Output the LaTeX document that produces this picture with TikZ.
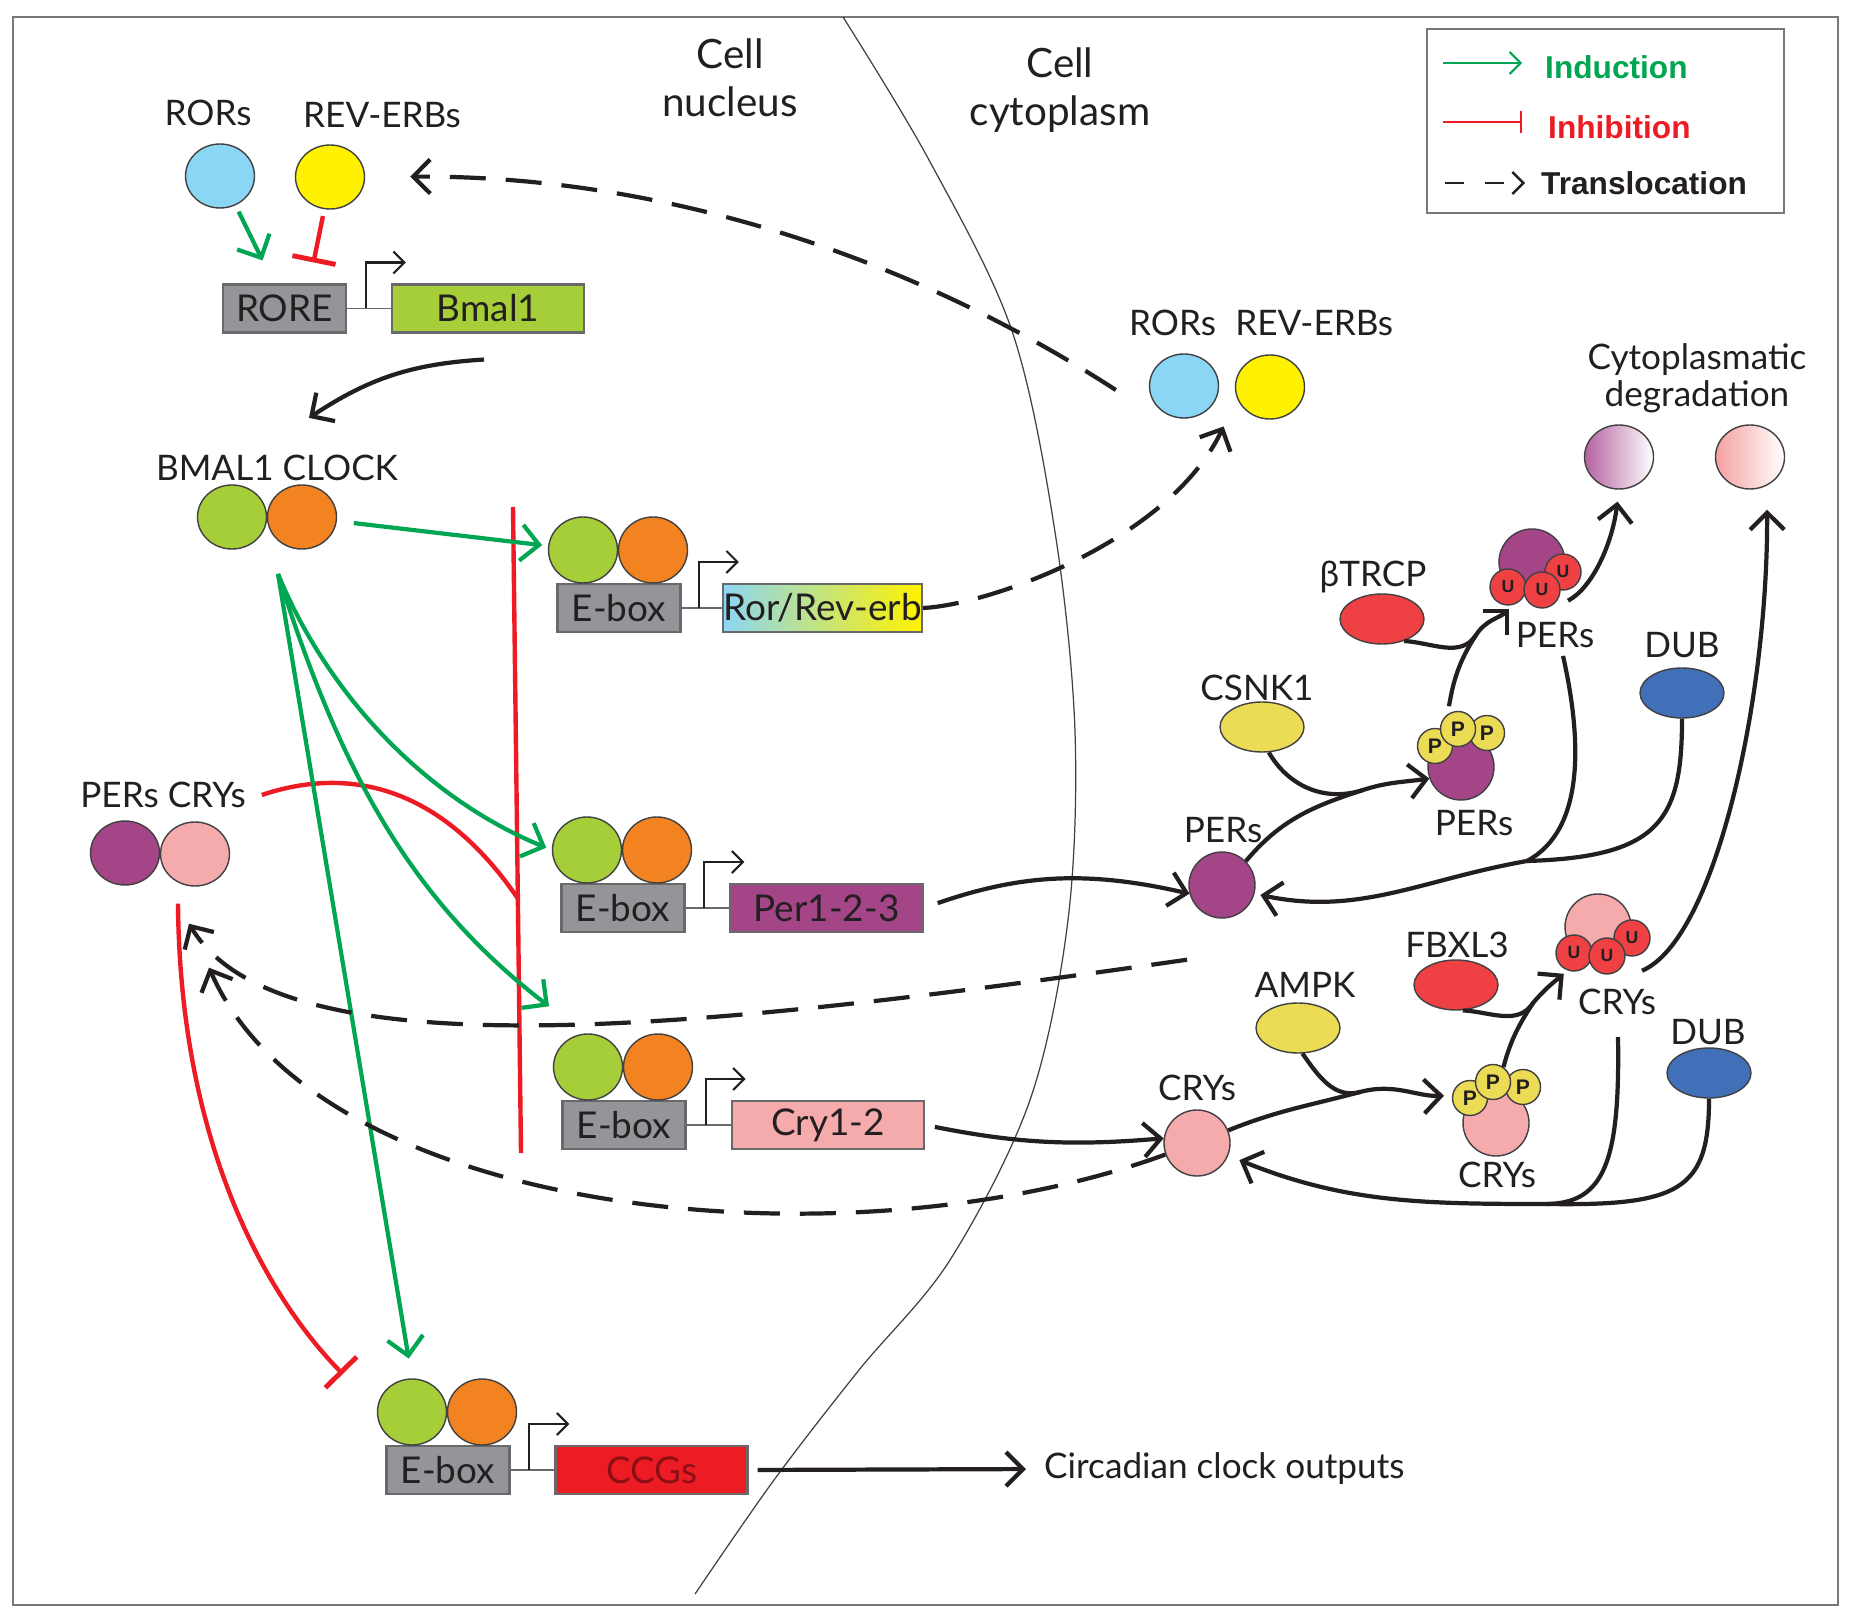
\documentclass[tikz,border=0pt]{standalone}
\usepackage{fontspec}
\setmainfont{Lato}
\newfontfamily\arialfont{Liberation Sans}
\usetikzlibrary{arrows.meta,shapes.geometric,calc}
\definecolor{ink}{RGB}{35,31,32}
\definecolor{edge}{RGB}{65,64,66}
\definecolor{framegray}{RGB}{120,120,120}
\definecolor{induct}{RGB}{0,166,81}
\definecolor{inhibit}{RGB}{237,28,36}
\definecolor{rorblue}{RGB}{140,214,245}
\definecolor{revyellow}{RGB}{255,242,0}
\definecolor{bmalgreen}{RGB}{166,206,57}
\definecolor{clockorange}{RGB}{243,130,32}
\definecolor{boxgray}{RGB}{147,149,152}
\definecolor{boxedge}{RGB}{105,105,108}
\definecolor{perpurple}{RGB}{164,69,135}
\definecolor{crypink}{RGB}{245,170,172}
\definecolor{ccgred}{RGB}{237,28,36}
\definecolor{ccgtext}{RGB}{140,15,20}
\definecolor{ligred}{RGB}{239,65,67}
\definecolor{dubblue}{RGB}{65,111,184}
\definecolor{kinyellow}{RGB}{236,219,84}
\definecolor{degpurple}{RGB}{180,98,160}
\definecolor{degpink}{RGB}{245,160,160}
\tikzset{
  txt/.style={font=\fontsize{10}{10.6}\selectfont,text=ink,inner sep=1pt},
  celltxt/.style={font=\fontsize{11.5}{13.7}\selectfont,text=ink,align=center},
  legtxt/.style={font=\arialfont\bfseries\fontsize{9}{10}\selectfont,anchor=west,inner sep=1pt},
  prot/.style={ellipse,draw=edge,line width=0.4pt,minimum width=6.9mm,minimum height=6.4mm,inner sep=0pt},
  ball/.style={circle,draw=edge,line width=0.4pt,minimum size=6.6mm,inner sep=0pt},
  enzyme/.style={ellipse,draw=edge,line width=0.4pt,minimum width=8.4mm,minimum height=5mm,inner sep=0pt},
  ptag/.style={circle,draw=edge,line width=0.4pt,fill=kinyellow,minimum size=3.5mm,inner sep=0pt,
    font=\arialfont\bfseries\fontsize{6}{6}\selectfont,text=ink},
  utag/.style={ptag,fill=ligred,minimum size=3.6mm,font=\arialfont\bfseries\fontsize{5}{5}\selectfont},
  ebox/.style={draw=boxedge,fill=boxgray,line width=0.6pt,minimum width=12.3mm,minimum height=4.8mm,
    inner sep=0pt,font=\fontsize{10.5}{12}\selectfont,text=ink},
  genebox/.style={draw=boxedge,line width=0.6pt,minimum width=19.2mm,minimum height=4.8mm,
    inner sep=0pt,font=\fontsize{10.5}{12}\selectfont,text=ink},
  link/.style={draw=boxedge,line width=0.5pt},
  promoter/.style={draw=ink,line width=0.6pt,-{Straight Barb[length=1.1mm,width=2.2mm]}},
  plain/.style={draw=ink,line width=1.2pt},
  act/.style={plain,-{Straight Barb[length=1.7mm,width=3.4mm]}},
  transloc/.style={act,dash pattern=on 3.6mm off 2mm},
  induce/.style={draw=induct,line width=1.2pt,-{Straight Barb[length=1.8mm,width=3.6mm]}},
  repress/.style={draw=inhibit,line width=1.25pt},
  inhib/.style={repress,-{Bar[width=4.4mm,line width=1.4pt]}},
}
\begin{document}
\begin{tikzpicture}[x=0.1mm,y=-0.1mm]
 \useasboundingbox (0,0) rectangle (1852,1619);
 \fill[white] (0,0) rectangle (1852,1619);
 \draw[framegray,line width=0.5pt] (13,17) rectangle (1838,1605);
 % membrane
 \draw[edge,line width=0.35pt] plot[smooth,tension=0.55] coordinates {(843,17) (929,160) (1012,331)
   (1055,532) (1075,732) (1068,920) (1030,1100) (950,1260) (859,1370) (774,1480) (695,1594)};
 \node[celltxt] (nucL) at (730,78) {Cell\\nucleus};
 \node[celltxt] (cytL) at (1060,90) {Cell\\cytoplasm};

 % legend
 \node[draw=framegray,line width=0.5pt,minimum width=35.7mm,minimum height=18.4mm] (legend) at (1605.5,121) {};
 \node[legtxt,text=induct] (indL) at (1541,67) {Induction};
 \node[legtxt,text=inhibit] (inhL) at (1544,127) {Inhibition};
 \node[legtxt,text=ink] (trlL) at (1537,183) {Translocation};
 \draw[induce,line width=0.6pt,-{Straight Barb[length=1.1mm,width=2.2mm]}] ([shift={(-98,-4)}]indL.west) -- ([shift={(-19,-4)}]indL.west);
 \draw[repress,line width=0.6pt,-{Bar[width=2.2mm,line width=0.6pt]}] ([shift={(-101,-5)}]inhL.west) -- ([shift={(-22,-5)}]inhL.west);
 \draw[draw=ink,line width=0.7pt,dash pattern=on 1.9mm off 2.1mm,-{Straight Barb[length=1.1mm,width=2.2mm]}]
   ([shift={(-92,0)}]trlL.west) -- ([shift={(-12,0)}]trlL.west);

 % promoters and genes
 \node[ebox] (rore) at (284.5,308.5) {RORE};
 \node[genebox,fill=bmalgreen] (bmal) at (488,308.5) {Bmal1};
 \foreach \n/\x/\y in {A/619/608,B/623/908,C/624/1125,D/448/1470}{
   \node[ebox] (eb\n) at (\x,\y) {E-box};
   \node[prot,fill=bmalgreen,minimum height=6.6mm] (bm\n) at (\x-36,\y-58) {};
   \node[prot,fill=clockorange,minimum height=6.6mm] (ck\n) at (\x+34,\y-58) {};
 }
 \node[genebox,left color=rorblue,right color=revyellow] (gnA) at (822.5,608) {Ror/Rev-erb};
 \node[genebox,fill=perpurple] (gnB) at (826.5,908) {Per1-2-3};
 \node[genebox,fill=crypink] (gnC) at (828,1125) {Cry1-2};
 \node[genebox,fill=ccgred,text=ccgtext] (gnD) at (651.5,1470) {CCGs};
 \foreach \a/\b in {rore/bmal,ebA/gnA,ebB/gnB,ebC/gnC,ebD/gnD}{
   \draw[link] (\a.east) -- (\b.west);
   \draw[promoter] ($(\a.east)!0.43!(\b.west)$) -- ++(0,-46) -- ++(40,0);
 }

 % nuclear proteins
 \node[prot,fill=rorblue] (rors) at (220,176) {};
 \node[prot,fill=revyellow] (revs) at (330,177) {};
 \node[txt] (rorsL) at (208,113) {RORs};
 \node[txt] (revsL) at (382,115) {REV-ERBs};
 \node[prot,fill=bmalgreen] (bmal1) at (232,517) {};
 \node[prot,fill=clockorange] (clock) at (302,517) {};
 \node[txt] (bcL) at (277,468) {BMAL1 CLOCK};
 \node[prot,fill=perpurple] (pn) at (125,853) {};
 \node[prot,fill=crypink] (cn) at (195,854) {};
 \node[txt] (pcL) at (163,795) {PERs CRYs};

 % cytoplasmic proteins
 \node[prot,fill=rorblue] (rorsC) at (1184,386) {};
 \node[prot,fill=revyellow] (revsC) at (1270,387) {};
 \node[txt] (rrL) at (1261,323) {RORs\hspace{0.55em}REV-ERBs};
 \node[prot,left color=degpurple,right color=white] (degP) at (1619,457) {};
 \node[prot,left color=degpink,right color=white] (degC) at (1750,457) {};
 \node[txt,align=center,font=\fontsize{10}{10.5}\selectfont] (degL) at (1697,378) {Cytoplasmatic\\degradation};

 \node[ball,fill=perpurple] (perC) at (1222,885) {};
 \node[txt] (perL) at (1223,830) {PERs};
 \node[enzyme,fill=kinyellow] (csnk) at (1262,727) {};
 \node[txt] (csnkL) at (1257,688) {CSNK1};
 \node[ball,fill=perpurple] (pP) at (1461,767) {};
 \node[ptag] (pPa) at (1435,746) {P};
 \node[ptag] (pPc) at (1487,733) {P};
 \node[ptag] (pPb) at (1458,729) {P};
 \node[txt] (pPL) at (1474,823) {PERs};
 \node[enzyme,fill=ligred] (btrcp) at (1382,619) {};
 \node[txt] (btrcpL) at (1373,577) {βTRCP};
 \node[ball,fill=perpurple] (uP) at (1532,562) {};
 \node[utag] (uPa) at (1508,587) {U};
 \node[utag] (uPc) at (1563,572) {U};
 \node[utag] (uPb) at (1542,590) {U};
 \node[txt] (uPL) at (1555,635) {PERs};
 \node[enzyme,fill=dubblue] (dubP) at (1682,693) {};
 \node[txt] (dubPL) at (1682,645) {DUB};

 \node[ball,fill=crypink] (cryC) at (1197,1143) {};
 \node[txt] (cryL) at (1197,1088) {CRYs};
 \node[enzyme,fill=kinyellow] (ampk) at (1298,1028) {};
 \node[txt] (ampkL) at (1305,985) {AMPK};
 \node[ball,fill=crypink] (pC) at (1496,1123) {};
 \node[ptag] (pCa) at (1470,1098) {P};
 \node[ptag] (pCc) at (1523,1087) {P};
 \node[ptag] (pCb) at (1493,1082) {P};
 \node[txt] (pCL) at (1497,1175) {CRYs};
 \node[enzyme,fill=ligred] (fbxl) at (1456,985) {};
 \node[txt] (fbxlL) at (1457,945) {FBXL3};
 \node[ball,fill=crypink] (uC) at (1598,927) {};
 \node[utag] (uCa) at (1574,953) {U};
 \node[utag] (uCc) at (1632,938) {U};
 \node[utag] (uCb) at (1607,956) {U};
 \node[txt] (uCL) at (1617,1002) {CRYs};
 \node[enzyme,fill=dubblue] (dubC) at (1709,1073) {};
 \node[txt] (dubCL) at (1708,1032) {DUB};
 \node[txt,anchor=west] (outL) at (1040,1469) {Circadian clock outputs};

 % red bar
 \coordinate (barTop) at (513,507);
 \coordinate (barBot) at (521,1153);
 \coordinate (barHit) at ($(barTop)!0.606!(barBot)$);
 \draw[repress] (barTop) -- (barBot);
 \draw[repress] ([shift={(12,0)}]pcL.east) .. controls (330,772) and (430,770) .. (barHit);
 \draw[inhib] ([shift={(-17,17)}]cn.south) .. controls (180,1150) and (270,1300) .. ([shift={(-34,-38)}]bmD.west);

 % induction
 \draw[induce,shorten <=0.7mm] (rors.-62) -- ([shift={(-22,-23)}]rore.north);
 \draw[inhib,shorten <=0.7mm] (revs.-100) -- ([shift={(29,-21)}]rore.north);
 \draw[act] ([shift={(-4,26)}]bmal.south) to[bend right=15] ([shift={(32,-33)}]bcL.north);
 \draw[induce,shorten <=1.7mm,shorten >=0.6mm] (clock) -- (bmA);
 \coordinate (fork) at (278,574);
 \draw[induce,shorten >=0.6mm] (fork) .. controls (330,700) and (430,800) .. (bmB.west);
 \draw[induce] (fork) .. controls (340,770) and (410,900) .. ([shift={(-39,-27)}]bmC.north);
 \draw[induce,shorten >=2mm] (fork) -- (bmD.north);

 % translocation
 \draw[transloc,shorten >=0.8mm] (gnA.east) .. controls (990,605) and (1170,540) .. ($(rorsC.south)!0.5!(revsC.south)$);
 \draw[transloc,shorten >=4.5mm] ([shift={(-33,4)}]rorsC.west) .. controls (900,250) and (650,175) .. (revs.east);
 \draw[transloc] ([shift={(-35,41)}]perC.south) .. controls (700,1030) and (280,1075) .. ([shift={(-6,37)}]cn.south);
 \draw[transloc] (cryC.200) .. controls (850,1270) and (320,1220) .. ([shift={(14,81)}]cn.south);

 % PERs
 \draw[act,shorten <=1.5mm] (gnB.east) to[bend left=16] (perC.195);
 \coordinate (perJoin) at (1363,790);
 \draw[act] (perC.45) to[out=50,in=198] (perJoin) to[out=18,in=188] (pP.200);
 \draw[plain] (csnk.-75) to[out=-60,in=198] (perJoin);
 \coordinate (perUJoin) at (1476,635);
 \draw[act,shorten <=0.8mm,shorten >=0.5mm] (pPb.125) to[out=80,in=237] (perUJoin) to[out=57,in=225] (uPa.-75);
 \draw[plain] (btrcp.-45) to[out=-3,in=237] (perUJoin);
 \draw[act,shorten >=1.2mm] ([shift={(5,10)}]uPc.south) .. controls (1592,588) and (1612,545) .. (degP.south);
 \coordinate (perDJoin) at (1527,861);
 \draw[act,shorten >=0.6mm] ([shift={(8,4)}]uPL.south) .. controls (1582,740) and (1585,830) .. (perDJoin) to[out=190,in=-12] (perC.-15);
 \draw[plain] (dubP.south) .. controls (1682,820) and (1660,857) .. (perDJoin);

 % CRYs
 \draw[act,shorten <=1mm] (gnC.east) to[bend right=8] (cryC.172);
 \coordinate (cryJoin) at (1360,1092);
 \draw[act,shorten >=0.8mm] (cryC.22) to[out=22,in=195] (cryJoin) to[out=15,in=182] (pCa.172);
 \draw[plain] (ampk.-80) to[out=-55,in=195] (cryJoin);
 \coordinate (cryUJoin) at (1533,1003);
 \draw[act,shorten >=0.5mm] (pCb.55) to[out=75,in=237] (cryUJoin) to[out=50,in=220] (uCa.-110);
 \draw[plain] (fbxl.-75) to[out=-3,in=237] (cryUJoin);
 \draw[act,shorten >=2mm] ([shift={(10,14)}]uCc.south) .. controls (1715,940) and (1768,700) .. ([shift={(17,0)}]degC.south);
 \coordinate (cryDJoin) at (1547,1204);
 \draw[act,shorten >=1.2mm] ([shift={(1,18)}]uCL.south) .. controls (1620,1160) and (1605,1203) .. (cryDJoin) to[out=180,in=-22] (cryC.-22);
 \draw[plain] (dubC.south) .. controls (1709,1190) and (1680,1206) .. (cryDJoin);

 % outputs
 \draw[act,shorten <=0.9mm,shorten >=1.4mm] (gnD.east) -- (outL.west);
\end{tikzpicture}
\end{document}
